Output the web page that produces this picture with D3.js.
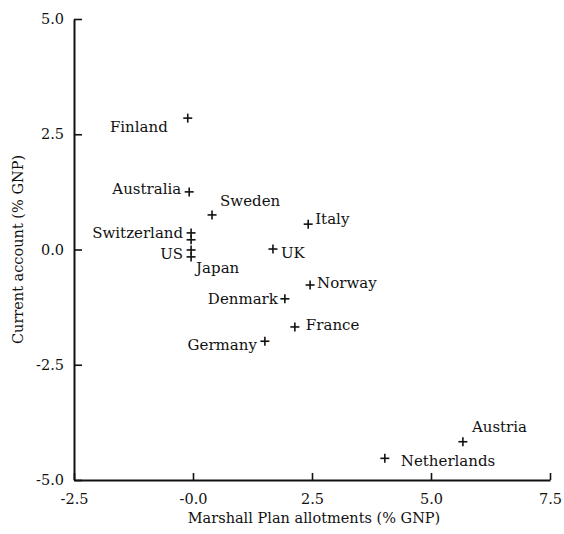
<!DOCTYPE html>
<html>
<head>
<meta charset="utf-8">
<script src="https://cdn.jsdelivr.net/npm/d3@7"></script>
<style>
  html, body { margin: 0; padding: 0; background: #fff; }
  svg text { font-family: "DejaVu Serif", "Liberation Serif", serif; fill: #111; }
</style>
</head>
<body>
<svg id="chart" width="564" height="534"></svg>
<script>
// ---- data ----
const countries = ["Finland","Australia","Sweden","Switzerland","","US","Japan","UK","Italy","Norway","Denmark","France","Germany","Austria","Netherlands"];
const marshallPlan = [-0.11,-0.08,0.40,-0.04,-0.04,-0.04,-0.04,1.68,2.42,2.46,1.93,2.14,1.51,5.67,4.03];
const currentAccount = [2.85,1.25,0.75,0.36,0.21,-0.01,-0.16,0.01,0.55,-0.77,-1.07,-1.68,-1.99,-4.17,-4.53];
const xTicks = [-2.5, 0, 2.5, 5.0, 7.5];
const xTickLabels = ["-2.5","-0.0","2.5","5.0","7.5"];
const yTicks = [-5.0, -2.5, 0, 2.5, 5.0];
const yTickLabels = ["-5.0","-2.5","0.0","2.5","5.0"];
const xTitle = "Marshall Plan allotments (% GNP)";
const yTitle = "Current account (% GNP)";

// ---- label placement (layout only) ----
const labelAnchor = ["end","end","start","end","end","end","start","start","start","start","end","start","end","start","start"];
const labelDx = [-20,-8,8,-8,-8,-8,5,8,7,7,-7,11,-8,9,16];
const labelDy = [9,-3,-14,0,0,4,11,4,-5,-2,0,-2,4,-15,2];

// ---- layout ----
const svg = d3.select("#chart");
const x = d3.scaleLinear().domain([-2.5, 7.5]).range([74, 550]);
const y = d3.scaleLinear().domain([-5, 5]).range([480, 19]);

const g = svg.append("g");

// axes lines
const xAxis = d3.axisBottom(x).tickValues(xTicks).tickSizeInner(-7).tickSizeOuter(0)
  .tickFormat((d, i) => xTickLabels[i]);
const yAxis = d3.axisLeft(y).tickValues(yTicks).tickSizeInner(-8).tickSizeOuter(0)
  .tickFormat((d, i) => yTickLabels[i]);

const gx = g.append("g").attr("transform", `translate(0,${y(-5)})`).call(xAxis);
const gy = g.append("g").attr("transform", `translate(${x(-2.5)},0)`).call(yAxis);

[gx, gy].forEach(a => {
  a.select(".domain").attr("stroke", "#111").attr("stroke-width", 2);
  a.selectAll(".tick line").attr("stroke", "#111").attr("stroke-width", 1.6);
  a.selectAll(".tick text").style("font-family", "'DejaVu Serif', serif").style("font-size", "14.5px").attr("fill", "#111");
});
gx.selectAll(".tick text").attr("y", 14);
gy.selectAll(".tick text").attr("x", -10);

// markers
const pts = countries.map((c, i) => ({c, xv: marshallPlan[i], yv: currentAccount[i], i}));
const s = 4.5;
const mk = g.append("g").selectAll("g.m").data(pts).join("g")
  .attr("transform", d => `translate(${x(d.xv)},${y(d.yv)})`);
mk.append("line").attr("x1", -s).attr("x2", s).attr("y1", 0).attr("y2", 0).attr("stroke", "#111").attr("stroke-width", 1.6);
mk.append("line").attr("x1", 0).attr("x2", 0).attr("y1", -s).attr("y2", s).attr("stroke", "#111").attr("stroke-width", 1.6);

// labels
g.append("g").selectAll("text").data(pts.filter(d => d.c !== "")).join("text")
  .attr("x", d => x(d.xv) + labelDx[d.i])
  .attr("y", d => y(d.yv) + labelDy[d.i])
  .attr("dy", "0.35em")
  .attr("text-anchor", d => labelAnchor[d.i])
  .style("font-size", "15px")
  .text(d => d.c);

// titles
svg.append("text").attr("x", 314).attr("y", 523).attr("text-anchor", "middle")
  .style("font-size", "14.5px").text(xTitle);
svg.append("text").attr("transform", `translate(23,${y(0)}) rotate(-90)`).attr("text-anchor", "middle")
  .style("font-size", "14.5px").text(yTitle);
</script>
</body>
</html>
